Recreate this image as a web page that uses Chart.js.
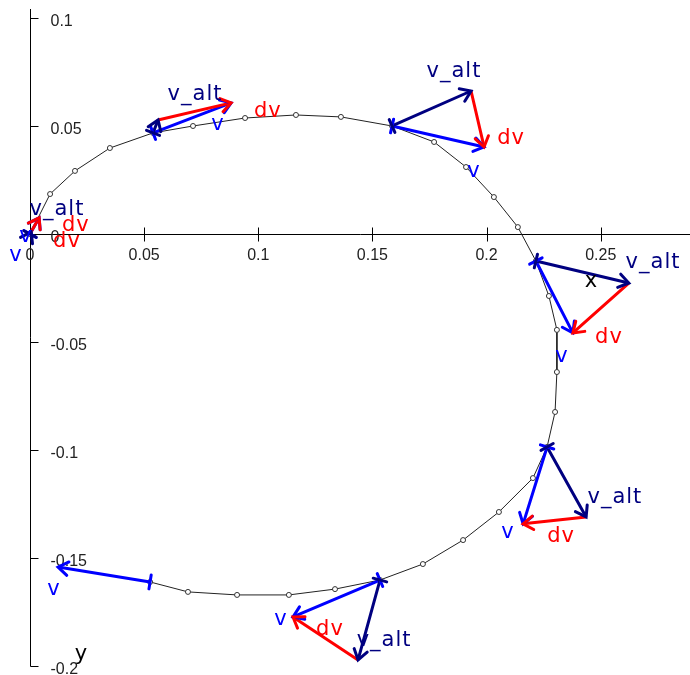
<!DOCTYPE html>
<html>
<head>
<meta charset="utf-8">
<script src="https://cdn.jsdelivr.net/npm/chart.js@4.4.0/dist/chart.umd.min.js"></script>
<style>
  html, body { margin: 0; padding: 0; background: #fff; }
  #wrap { width: 690px; height: 675px; position: relative; }
</style>
</head>
<body>
<div id="wrap"><canvas id="chart"></canvas></div>
<script>
// path of the moving point
const pathX = [0, 0.0088, 0.0197, 0.0350, 0.0539, 0.0714, 0.0942, 0.1165, 0.1362, 0.1586,
    0.1770, 0.1910, 0.2032, 0.2137, 0.2216, 0.2273, 0.2308, 0.2308, 0.2300, 0.2265,
    0.2203, 0.2054, 0.1897, 0.1721, 0.1533, 0.1336, 0.1134, 0.0907, 0.0692, 0.0526];
const pathY = [0, 0.0185, 0.0292, 0.0398, 0.0468, 0.0500, 0.0537, 0.0551, 0.0542, 0.0500,
    0.0426, 0.0310, 0.0171, 0.0032, -0.0125, -0.0287, -0.0444, -0.0639, -0.0824, -0.0986,
    -0.1130, -0.1287, -0.1417, -0.1528, -0.1602, -0.1644, -0.1671, -0.1671, -0.1657, -0.1611];

// velocity vectors, attached to these points of the path
const vecAt = [0, 4, 9, 14, 19, 24, 29];
const vX = [0.0040, 0.0342, 0.0403, 0.0162, -0.0105, -0.0381, -0.0403];
const vY = [0.0075, 0.0139, -0.0097, -0.0333, -0.0356, -0.0171, 0.0069];
const altX = [0.0005, 0.0022, 0.0346, 0.0407, 0.0171, -0.0096, null];
const altY = [0.0010, 0.0060, 0.0162, -0.0102, -0.0324, -0.0370, null];

// axis ticks
const xTicks = [0, 0.05, 0.1, 0.15, 0.2, 0.25];
const yTicks = [0.1, 0.05, 0, -0.05, -0.1, -0.15, -0.2];

// text next to the arrows and axes
const labelText = ["v_alt", "dv", "dv", "v", "v",
    "v_alt", "dv", "v",
    "v_alt", "dv", "v",
    "v_alt", "dv", "v",
    "v_alt", "dv", "v",
    "v_alt", "dv", "v",
    "v", "x", "y"];
const labelX = [0.0118, 0.0201, 0.0162, -0.0018, -0.0061,
    0.0723, 0.1042, 0.0823,
    0.1857, 0.2107, 0.1945,
    0.2729, 0.2536, 0.2330,
    0.2562, 0.2326, 0.2094,
    0.1551, 0.1314, 0.1099,
    0.0105, 0.2457, 0.0223];
const labelY = [0.0111, 0.0037, -0.0037, -0.0014, -0.0102,
    0.0644, 0.0569, 0.0509,
    0.0750, 0.0444, 0.0287,
    -0.0134, -0.0481, -0.0569,
    -0.1218, -0.1403, -0.1384,
    -0.1884, -0.1829, -0.1787,
    -0.1644, -0.0222, -0.1949];

const colors = { v: "#0000ff", v_alt: "#000080", dv: "#ff0000", x: "#000000", y: "#000000" };

const arrows = { v: [], v_alt: [], dv: [] };
vecAt.forEach((i, k) => {
    const x0 = pathX[i], y0 = pathY[i];
    arrows.v.push([x0, y0, x0 + vX[k], y0 + vY[k]]);
    if (altX[k] !== null) {
        arrows.v_alt.push([x0, y0, x0 + altX[k], y0 + altY[k]]);
        arrows.dv.push([x0 + altX[k], y0 + altY[k], x0 + vX[k], y0 + vY[k]]);
    }
});

const toLine = list => list.flatMap(a => [{ x: a[0], y: a[1] }, { x: a[2], y: a[3] }, { x: a[2], y: null }]);

const arrowDataset = (key, order) => ({
    data: toLine(arrows[key]),
    showLine: true,
    borderColor: colors[key],
    borderWidth: 3,
    pointRadius: 0,
    order: order
});

const axesPlugin = {
    id: "axes",
    beforeDatasetsDraw(chart) {
        const ctx = chart.ctx;
        const sx = chart.scales.x, sy = chart.scales.y;
        const ox = Math.round(sx.getPixelForValue(0)) + 0.5;
        const oy = Math.round(sy.getPixelForValue(0)) + 0.5;
        ctx.save();
        ctx.strokeStyle = "#000";
        ctx.lineWidth = 1;
        ctx.beginPath();
        ctx.moveTo(ox, oy);
        ctx.lineTo(chart.chartArea.right, oy);
        ctx.moveTo(ox, Math.round(sy.getPixelForValue(-0.2)) + 0.5);
        ctx.lineTo(ox, Math.round(sy.getPixelForValue(0.104)));
        xTicks.forEach(t => {
            const p = Math.round(sx.getPixelForValue(t)) + 0.5;
            ctx.moveTo(p, oy - 7);
            ctx.lineTo(p, oy + 7);
        });
        yTicks.forEach(t => {
            const p = Math.round(sy.getPixelForValue(t)) + 0.5;
            ctx.moveTo(ox, p);
            ctx.lineTo(ox + 8, p);
        });
        ctx.stroke();

        ctx.fillStyle = "#222";
        ctx.font = "16px 'Liberation Sans', Arial, sans-serif";
        ctx.textBaseline = "alphabetic";
        ctx.textAlign = "center";
        xTicks.forEach(t => ctx.fillText(String(t), sx.getPixelForValue(t), oy + 25));
        ctx.textAlign = "left";
        yTicks.forEach(t => ctx.fillText(String(t), ox + 20, sy.getPixelForValue(t) + 8));
        ctx.restore();
    },
    afterDatasetsDraw(chart) {
        const ctx = chart.ctx;
        const sx = chart.scales.x, sy = chart.scales.y;
        ctx.save();
        ctx.lineWidth = 3;
        ctx.lineCap = "round";
        Object.keys(arrows).forEach(key => {
            ctx.strokeStyle = colors[key];
            arrows[key].forEach(a => {
                const x0 = sx.getPixelForValue(a[0]), y0 = sy.getPixelForValue(a[1]);
                const x1 = sx.getPixelForValue(a[2]), y1 = sy.getPixelForValue(a[3]);
                const ang = Math.atan2(y1 - y0, x1 - x0);
                ctx.beginPath();
                ctx.moveTo(x1 - 12 * Math.cos(ang - 0.6), y1 - 12 * Math.sin(ang - 0.6));
                ctx.lineTo(x1, y1);
                ctx.lineTo(x1 - 12 * Math.cos(ang + 0.6), y1 - 12 * Math.sin(ang + 0.6));
                if (key !== "dv") {
                    const b = ang + Math.PI / 2;
                    ctx.moveTo(x0 + 7 * Math.cos(b), y0 + 7 * Math.sin(b));
                    ctx.lineTo(x0 - 7 * Math.cos(b), y0 - 7 * Math.sin(b));
                }
                ctx.stroke();
            });
        });

        ctx.textAlign = "center";
        ctx.textBaseline = "middle";
        labelText.forEach((t, i) => {
            const axisLabel = t === "x" || t === "y";
            ctx.font = axisLabel ? "21px 'DejaVu Sans', sans-serif" : "21px 'DejaVu Sans', sans-serif";
            ctx.letterSpacing = axisLabel ? "0px" : "1px";
            ctx.fillStyle = colors[t];
            ctx.fillText(t, sx.getPixelForValue(labelX[i]), sy.getPixelForValue(labelY[i]));
        });
        ctx.restore();
    }
};

new Chart(document.getElementById("chart"), {
    type: "scatter",
    data: {
        datasets: [
            arrowDataset("dv", 1),
            arrowDataset("v_alt", 2),
            arrowDataset("v", 3),
            {
                data: pathX.map((x, i) => ({ x: x, y: pathY[i] })),
                showLine: true,
                borderColor: "#222",
                borderWidth: 1,
                pointRadius: 2.5,
                pointBorderWidth: 1,
                pointBorderColor: "#333",
                pointBackgroundColor: "#fff",
                order: 4
            }
        ]
    },
    options: {
        responsive: true,
        maintainAspectRatio: false,
        animation: false,
        events: [],
        layout: { padding: 0, autoPadding: false },
        plugins: { legend: { display: false }, tooltip: { enabled: false } },
        scales: {
            x: { type: "linear", min: -0.01314, max: 0.2891, display: false },
            y: { type: "linear", min: -0.20417, max: 0.10833, display: false }
        }
    },
    plugins: [axesPlugin]
});
</script>
</body>
</html>
